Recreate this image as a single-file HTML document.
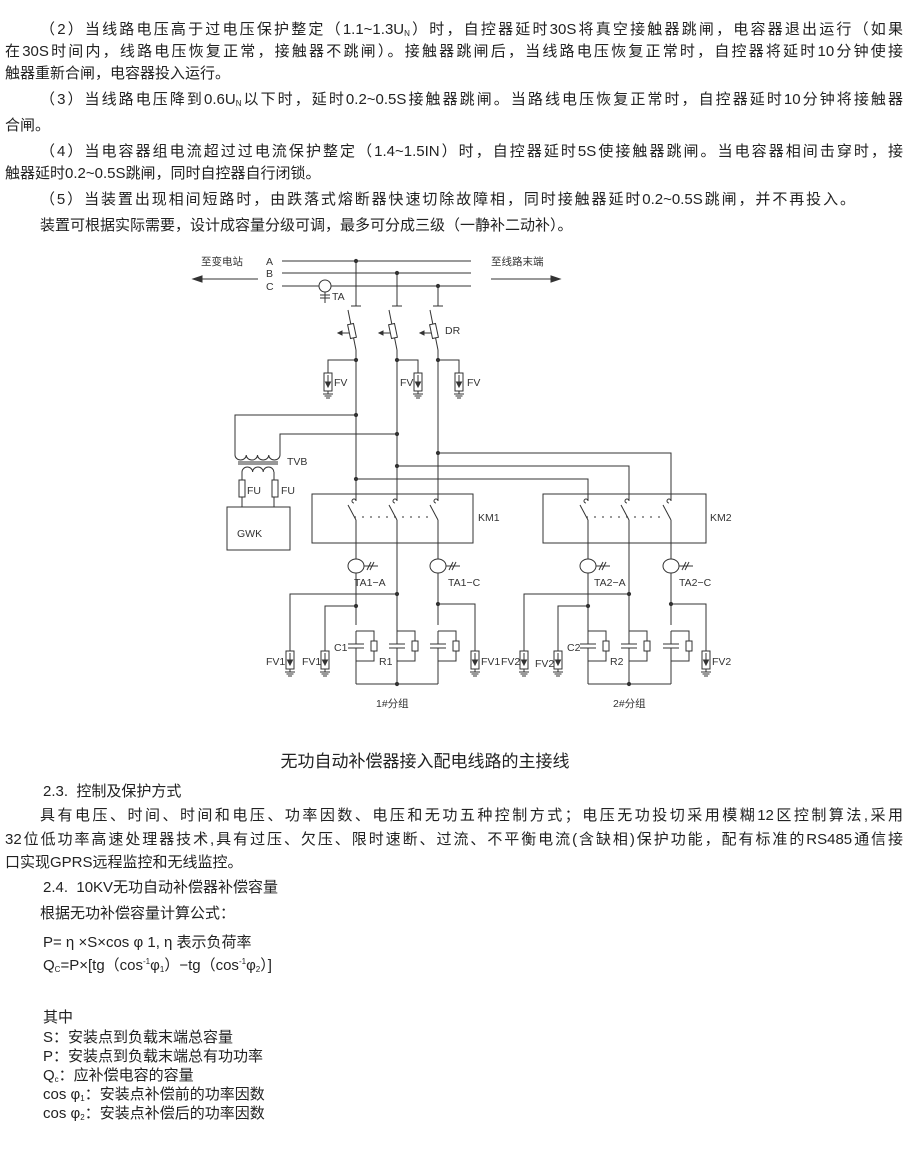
<!DOCTYPE html>
<html><head><meta charset="utf-8"><style>
body{margin:0;width:910px;height:1161px;background:#fff;position:relative;overflow:hidden;font-family:"Liberation Sans","Noto Sans CJK SC",sans-serif;color:#222}
.l{position:absolute;font-size:15px;line-height:20px;white-space:nowrap}
.j{white-space:normal;text-align:justify;text-align-last:justify}
sub{font-size:8px;vertical-align:-2px}
sup{font-size:8px}
svg text{font-family:"Liberation Sans","Noto Sans CJK SC",sans-serif;fill:#333}
</style></head><body>
<div class="l j" style="left:40px;width:863px;top:20px">（2）当线路电压高于过电压保护整定（1.1~1.3U<sub>N</sub>）时，自控器延时30S将真空接触器跳闸，电容器退出运行（如果</div>
<div class="l j" style="left:5px;width:898px;top:42px">在30S时间内，线路电压恢复正常，接触器不跳闸）。接触器跳闸后，当线路电压恢复正常时，自控器将延时10分钟使接</div>
<div class="l" style="left:5px;top:64px">触器重新合闸，电容器投入运行。</div>
<div class="l j" style="left:40px;width:863px;top:90px">（3）当线路电压降到0.6U<sub>N</sub>以下时，延时0.2~0.5S接触器跳闸。当路线电压恢复正常时，自控器延时10分钟将接触器</div>
<div class="l" style="left:5px;top:116px">合闸。</div>
<div class="l j" style="left:40px;width:863px;top:142px">（4）当电容器组电流超过过电流保护整定（1.4~1.5IN）时，自控器延时5S使接触器跳闸。当电容器相间击穿时，接</div>
<div class="l" style="left:5px;top:164px">触器延时0.2~0.5S跳闸，同时自控器自行闭锁。</div>
<div class="l j" style="left:40px;width:815px;top:190px">（5）当装置出现相间短路时，由跌落式熔断器快速切除故障相，同时接触器延时0.2~0.5S跳闸，并不再投入。</div>
<div class="l" style="left:40px;top:216px">装置可根据实际需要，设计成容量分级可调，最多可分成三级（一静补二动补）。</div>

<svg style="position:absolute;left:0;top:0" width="910" height="740" viewBox="0 0 910 740">
<defs>
<g id="fv" stroke="#333" fill="none" stroke-width="1">
<rect x="-4" y="0" width="8" height="18" fill="#fff"/>
<line x1="0" y1="2" x2="0" y2="10"/>
<path d="M-2.5 9 L2.5 9 L0 14 Z" fill="#333"/>
<line x1="0" y1="18" x2="0" y2="21"/>
<line x1="-5" y1="21" x2="5" y2="21"/><line x1="-3.5" y1="23" x2="3.5" y2="23"/><line x1="-2" y1="25" x2="2" y2="25"/>
</g>
<g id="cr" stroke="#333" fill="none" stroke-width="1">
<line x1="0" y1="631" x2="0" y2="644"/><line x1="0" y1="648" x2="0" y2="661"/>
<line x1="-8" y1="644" x2="8" y2="644"/><line x1="-8" y1="648" x2="8" y2="648"/>
<polyline points="0,631 18,631 18,641"/><polyline points="18,651 18,661 0,661"/>
<rect x="15" y="641" width="6" height="10" fill="#fff"/>
</g>
<g id="ct" stroke="#333" fill="none" stroke-width="1">
<ellipse cx="0" cy="0" rx="8" ry="7" fill="#fff"/>
<line x1="8" y1="0" x2="22" y2="0"/><line x1="11" y1="4" x2="15" y2="-4"/><line x1="14" y1="4" x2="18" y2="-4"/>
</g>
</defs>
<g stroke="#333" stroke-width="1" fill="none">
<line x1="282" y1="261" x2="471" y2="261"/><line x1="282" y1="273" x2="471" y2="273"/><line x1="282" y1="286" x2="471" y2="286"/>
<line x1="199" y1="279" x2="258" y2="279"/><path d="M193 279 L202 276 L202 282Z" fill="#333"/>
<line x1="491" y1="279" x2="554" y2="279"/><path d="M560 279 L551 276 L551 282Z" fill="#333"/>
<ellipse cx="325" cy="286" rx="6" ry="6" fill="#fff"/>
<line x1="325" y1="292" x2="325" y2="303"/><line x1="320" y1="295" x2="330" y2="295"/><line x1="320" y1="298" x2="330" y2="298"/>
<line x1="356" y1="261" x2="356" y2="306"/><line x1="397" y1="273" x2="397" y2="306"/><line x1="438" y1="286" x2="438" y2="306"/>
<line x1="351" y1="306" x2="361" y2="306"/><line x1="392" y1="306" x2="402" y2="306"/><line x1="433" y1="306" x2="443" y2="306"/>
</g>
<g stroke="#333" fill="#333"><circle cx="356" cy="261" r="1.6"/><circle cx="397" cy="273" r="1.6"/><circle cx="438" cy="286" r="1.6"/></g>
<g stroke="#333" stroke-width="1" fill="none">
<g><line x1="348" y1="310" x2="356" y2="350"/><line x1="356" y1="350" x2="356" y2="625"/><rect x="349" y="324" width="6" height="14" transform="rotate(-12 352 331)" fill="#fff"/><line x1="340" y1="333" x2="349" y2="333"/><path d="M338 333 L342 331 L342 335Z" fill="#333"/></g>
<g><line x1="389" y1="310" x2="397" y2="350"/><line x1="397" y1="350" x2="397" y2="684"/><rect x="390" y="324" width="6" height="14" transform="rotate(-12 393 331)" fill="#fff"/><line x1="381" y1="333" x2="390" y2="333"/><path d="M379 333 L383 331 L383 335Z" fill="#333"/></g>
<g><line x1="430" y1="310" x2="438" y2="350"/><line x1="438" y1="350" x2="438" y2="625"/><rect x="431" y="324" width="6" height="14" transform="rotate(-12 434 331)" fill="#fff"/><line x1="422" y1="333" x2="431" y2="333"/><path d="M420 333 L424 331 L424 335Z" fill="#333"/></g>
<polyline points="356,360 328,360 328,373"/><polyline points="397,360 418,360 418,373"/><polyline points="438,360 459,360 459,373"/>
<polyline points="356,415 235,415 235,455"/>
<polyline points="397,434 280,434 280,455"/>
<polyline points="438,453 671,453 671,500"/>
<polyline points="397,466 629,466 629,500"/>
<polyline points="356,479 588,479 588,500"/>
<path d="M235 455 a5.6 5 0 0 0 11.25 0 a5.6 5 0 0 0 11.25 0 a5.6 5 0 0 0 11.25 0 a5.6 5 0 0 0 11.25 0"/>
<line x1="238" y1="462" x2="278" y2="462"/><line x1="238" y1="464" x2="278" y2="464"/>
<path d="M242 472 a5.3 5 0 0 1 10.6 0 a5.3 5 0 0 1 10.6 0 a5.3 5 0 0 1 10.6 0"/>
<polyline points="242,472 242,507"/><polyline points="274,472 274,507"/>
<rect x="239" y="480" width="6" height="17" fill="#fff"/><rect x="272" y="480" width="6" height="17" fill="#fff"/>
<rect x="227" y="507" width="63" height="43"/>
<rect x="312" y="494" width="161" height="49"/><rect x="543" y="494" width="163" height="49"/>
</g>
<g stroke="#333" fill="#333"><circle cx="356" cy="360" r="1.6"/><circle cx="397" cy="360" r="1.6"/><circle cx="438" cy="360" r="1.6"/>
<circle cx="356" cy="415" r="1.6"/><circle cx="397" cy="434" r="1.6"/><circle cx="438" cy="453" r="1.6"/><circle cx="397" cy="466" r="1.6"/><circle cx="356" cy="479" r="1.6"/></g>
<g stroke="#333" stroke-width="1" fill="none">
<line x1="356" y1="494" x2="356" y2="500"/>
<line x1="588" y1="500" x2="588" y2="684"/><line x1="629" y1="500" x2="629" y2="684"/><line x1="671" y1="500" x2="671" y2="625"/>
</g>
<g stroke="#333" stroke-width="1" fill="#fff">
<rect x="351" y="500" width="8" height="28" stroke="none"/><rect x="392" y="500" width="8" height="28" stroke="none"/><rect x="433" y="500" width="8" height="28" stroke="none"/>
<rect x="583" y="500" width="8" height="28" stroke="none"/><rect x="624" y="500" width="8" height="28" stroke="none"/><rect x="666" y="500" width="8" height="28" stroke="none"/>
</g>
<g stroke="#333" stroke-width="1" fill="none">
<g id="k1"><path d="M356 496 L356 501 a2 2 0 1 0 -2 2"/><line x1="348" y1="505" x2="356" y2="520"/><line x1="356" y1="520" x2="356" y2="528"/></g>
<use href="#k1" x="41"/><use href="#k1" x="82"/>
<use href="#k1" x="232"/><use href="#k1" x="273"/><use href="#k1" x="315"/>
<line x1="354" y1="517" x2="432" y2="517" stroke-dasharray="2,6"/>
<line x1="586" y1="517" x2="665" y2="517" stroke-dasharray="2,6"/>
<polyline points="397,594 290,594 290,651"/>
<polyline points="356,606 325,606 325,651"/>
<polyline points="438,604 475,604 475,651"/>
<line x1="356" y1="661" x2="356" y2="684"/><line x1="438" y1="661" x2="438" y2="684"/><line x1="356" y1="684" x2="438" y2="684"/>
<polyline points="629,594 524,594 524,651"/>
<polyline points="588,606 558,606 558,651"/>
<polyline points="671,604 706,604 706,651"/>
<line x1="588" y1="661" x2="588" y2="684"/><line x1="671" y1="661" x2="671" y2="684"/><line x1="588" y1="684" x2="671" y2="684"/>
</g>
<rect x="352" y="632" width="8" height="28" fill="#fff"/><rect x="393" y="632" width="8" height="28" fill="#fff"/><rect x="434" y="632" width="8" height="28" fill="#fff"/>
<rect x="584" y="632" width="8" height="28" fill="#fff"/><rect x="625" y="632" width="8" height="28" fill="#fff"/><rect x="667" y="632" width="8" height="28" fill="#fff"/>
<use href="#cr" x="356"/><use href="#cr" x="397"/><use href="#cr" x="438"/>
<use href="#cr" x="588"/><use href="#cr" x="629"/><use href="#cr" x="671"/>
<use href="#ct" x="356" y="566"/><use href="#ct" x="438" y="566"/><use href="#ct" x="588" y="566"/><use href="#ct" x="671" y="566"/>
<use href="#fv" x="328" y="373"/><use href="#fv" x="418" y="373"/><use href="#fv" x="459" y="373"/>
<use href="#fv" x="290" y="651"/><use href="#fv" x="325" y="651"/><use href="#fv" x="475" y="651"/>
<use href="#fv" x="524" y="651"/><use href="#fv" x="558" y="651"/><use href="#fv" x="706" y="651"/>
<g stroke="#333" fill="#333"><circle cx="397" cy="594" r="1.6"/><circle cx="356" cy="606" r="1.6"/><circle cx="438" cy="604" r="1.6"/><circle cx="397" cy="684" r="1.6"/>
<circle cx="629" cy="594" r="1.6"/><circle cx="588" cy="606" r="1.6"/><circle cx="671" cy="604" r="1.6"/><circle cx="629" cy="684" r="1.6"/></g>
<g font-size="10.5">
<text x="201" y="265">至变电站</text><text x="491" y="265">至线路末端</text>
<text x="266" y="265">A</text><text x="266" y="277">B</text><text x="266" y="290">C</text>
<text x="332" y="300">TA</text><text x="445" y="334">DR</text>
<text x="334" y="386">FV</text><text x="400" y="386">FV</text><text x="467" y="386">FV</text>
<text x="287" y="465">TVB</text><text x="247" y="494">FU</text><text x="281" y="494">FU</text>
<text x="237" y="537">GWK</text><text x="478" y="521">KM1</text><text x="710" y="521">KM2</text>
<text x="354" y="586">TA1−A</text><text x="448" y="586">TA1−C</text><text x="594" y="586">TA2−A</text><text x="679" y="586">TA2−C</text>
<text x="334" y="651">C1</text><text x="379" y="665">R1</text><text x="567" y="651">C2</text><text x="610" y="665">R2</text>
<text x="266" y="665">FV1</text><text x="302" y="665">FV1</text><text x="481" y="665">FV1</text><text x="501" y="665">FV2</text><text x="535" y="667">FV2</text><text x="712" y="665">FV2</text>
<text x="376" y="707">1#分组</text><text x="613" y="707">2#分组</text>
</g>
</svg>

<div class="l" style="left:0;width:850px;text-align:center;top:752px;font-size:17px">无功自动补偿器接入配电线路的主接线</div>
<div class="l" style="left:43px;top:782px">2.3.&nbsp; 控制及保护方式</div>
<div class="l j" style="left:40px;width:863px;top:806px">具有电压、时间、时间和电压、功率因数、电压和无功五种控制方式；电压无功投切采用模糊12区控制算法,采用</div>
<div class="l j" style="left:5px;width:898px;top:830px">32位低功率高速处理器技术,具有过压、欠压、限时速断、过流、不平衡电流(含缺相)保护功能，配有标准的RS485通信接</div>
<div class="l" style="left:5px;top:853px">口实现GPRS远程监控和无线监控。</div>
<div class="l" style="left:43px;top:878px">2.4.&nbsp; 10KV无功自动补偿器补偿容量</div>
<div class="l" style="left:40px;top:904px">根据无功补偿容量计算公式：</div>
<div class="l" style="left:43px;top:933px">P= η ×S×cos φ 1, η 表示负荷率</div>
<div class="l" style="left:43px;top:952px">Q<sub>C</sub>=P×[tg（cos<sup>-1</sup>φ<sub>1</sub>）−tg（cos<sup>-1</sup>φ<sub>2</sub>）]</div>
<div class="l" style="left:43px;top:1008px">其中</div>
<div class="l" style="left:43px;top:1028px">S：安装点到负载末端总容量</div>
<div class="l" style="left:43px;top:1047px">P：安装点到负载末端总有功功率</div>
<div class="l" style="left:43px;top:1066px">Q<sub>c</sub>：应补偿电容的容量</div>
<div class="l" style="left:43px;top:1085px">cos φ<sub>1</sub>：安装点补偿前的功率因数</div>
<div class="l" style="left:43px;top:1104px">cos φ<sub>2</sub>：安装点补偿后的功率因数</div>
</body></html>
